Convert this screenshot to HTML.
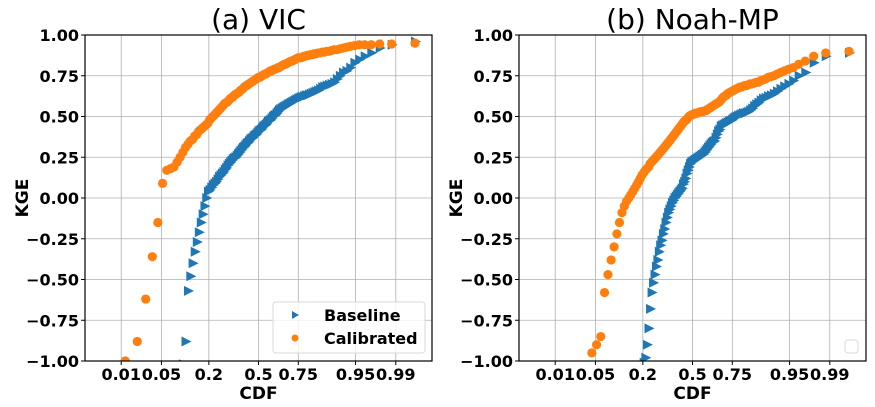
<!DOCTYPE html>
<html><head><meta charset="utf-8">
<style>
html,body{margin:0;padding:0;background:#fff;overflow:hidden;width:875px;height:407px;}
svg{display:block;font-family:"DejaVu Sans","Liberation Sans",sans-serif;}
.tick{font-size:16px;font-weight:bold;fill:#000;}
</style></head>
<body>
<svg id="chart" width="875" height="407" viewBox="0 0 875 407"></svg>
<script>
const xTicks = [0.01, 0.05, 0.2, 0.5, 0.75, 0.95, 0.99];
const xTickLabels = ["0.01", "0.05", "0.2", "0.5", "0.75", "0.95", "0.99"];
const yTicks = [-1, -0.75, -0.5, -0.25, 0, 0.25, 0.5, 0.75, 1];
const yTickLabels = ["\u22121.00", "\u22120.75", "\u22120.50", "\u22120.25", "0.00", "0.25", "0.50", "0.75", "1.00"];
const panelTitles = ["(a) VIC", "(b) Noah-MP"];
const seriesNames = ["Baseline", "Calibrated"];

const vicBaseline = [-2.5,-2.2,-2.0,-1.8,-1.65,-1.5,-1.4,-1.3,-1.22,-1.15,-1.1,-1.06,-1.02,-0.88,
-0.57,-0.48,-0.40,-0.33,-0.27,-0.21,-0.15,-0.10,-0.05,0.0,0.04,
0.05,0.065,0.08,0.09,0.10,0.115,0.13,0.14,0.15,0.16,0.175,0.185,0.20,0.21,
0.22,0.23,0.24,0.245,0.25,0.26,0.27,0.28,0.29,0.30,0.31,0.315,0.325,0.335,0.34,0.35,0.36,0.365,0.37,
0.38,0.385,0.39,0.40,0.41,0.415,0.42,0.43,0.44,0.445,0.45,0.46,0.47,0.475,0.48,0.49,0.50,0.505,0.51,0.52,0.53,0.54,
0.545,0.55,0.555,0.56,0.565,0.57,0.575,0.58,0.585,0.59,0.595,0.60,0.605,0.61,0.615,0.62,0.62,0.625,0.63,0.63,0.635,0.64,
0.645,0.65,0.655,0.66,0.67,0.68,0.685,0.69,0.695,0.70,0.71,
0.73,0.75,0.77,0.78,0.80,0.83,0.85,0.87,0.89,0.92,0.94,0.96];

const vicCalibrated = [-1.3,-1.0,-0.88,-0.62,-0.36,-0.15,0.09,0.17,0.18,0.19,0.22,0.25,0.28,0.31,0.33,0.35,
0.36,0.38,0.39,0.41,0.42,0.43,0.44,0.45,0.46,0.48,0.49,0.50,0.51,0.52,0.53,0.54,
0.55,0.56,0.57,0.58,0.585,0.59,0.60,0.61,0.615,0.62,0.63,0.635,0.64,0.645,
0.65,0.66,0.665,0.67,0.68,0.685,0.69,0.695,0.70,0.705,0.71,0.715,0.72,0.725,0.73,0.735,0.74,0.74,
0.745,0.75,0.755,0.76,0.76,0.765,0.77,0.775,0.78,0.78,0.785,0.79,0.79,0.795,0.80,0.80,
0.805,0.81,0.815,0.82,0.82,0.825,0.83,0.835,0.84,0.84,0.845,0.85,0.855,0.86,0.86,0.86,0.865,0.87,0.87,
0.875,0.875,0.88,0.88,0.885,0.885,0.89,0.89,0.895,0.895,0.90,0.90,
0.905,0.91,0.91,0.915,0.92,0.925,0.93,0.935,0.94,0.94,0.94,0.945,0.945,0.95];

const noahBaseline = [-2.5,-2.2,-2.0,-1.9,-1.8,-1.7,-1.6,-1.55,-1.5,-1.45,-1.4,-1.35,-1.3,-1.27,-1.24,-1.21,-1.18,-1.15,-1.13,-1.11,-1.09,-1.07,-1.05,-1.04,-1.03,-1.01,
-0.98,-0.90,-0.80,-0.68,-0.58,-0.52,-0.47,-0.42,-0.38,-0.33,-0.29,-0.26,-0.22,-0.19,-0.15,-0.12,-0.09,-0.07,-0.05,-0.03,-0.015,0.0,
0.01,0.02,0.03,0.04,0.05,0.06,0.085,0.10,0.12,0.15,0.17,0.19,0.21,0.22,0.225,0.23,
0.235,0.24,0.245,0.25,0.255,0.26,0.265,0.27,0.28,
0.29,0.30,0.31,0.32,0.33,0.34,0.345,0.35,
0.37,0.39,0.41,0.42,0.44,
0.445,0.45,0.455,0.46,0.465,0.47,0.475,0.48,0.49,
0.495,0.50,0.505,0.51,0.515,0.52,0.52,0.525,0.53,
0.54,0.55,0.565,0.575,0.585,0.60,0.61,0.615,0.625,0.63,0.64,
0.655,0.67,0.685,0.70,0.72,0.75,0.77,0.83,0.87,0.89];

const noahCalibrated = [-1.6,-1.4,-1.25,-1.15,-1.05,-0.95,-0.90,-0.85,
-0.58,-0.47,-0.38,-0.30,-0.22,-0.15,-0.09,-0.05,-0.02,0.0,0.02,
0.04,0.06,0.08,0.10,0.12,0.14,0.155,0.17,0.18,0.19,0.21,0.22,0.23,
0.24,0.25,0.26,0.27,0.28,0.29,0.30,0.31,0.32,
0.33,0.34,0.35,0.36,0.37,0.38,0.39,0.40,0.41,0.42,
0.43,0.44,0.45,0.46,0.47,0.475,0.48,0.49,0.50,
0.505,0.51,0.51,0.515,0.52,0.52,0.52,0.525,0.525,0.53,0.53,0.53,0.535,0.535,0.54,
0.545,0.55,0.555,0.56,0.565,0.57,0.575,0.58,0.585,0.59,
0.60,0.61,0.62,0.625,0.63,0.64,0.645,0.65,0.655,0.66,
0.665,0.67,0.675,0.68,0.68,0.685,0.69,0.69,0.695,0.70,0.70,0.705,0.71,0.71,
0.72,0.725,0.73,0.74,0.745,0.75,0.76,0.77,0.78,0.79,0.80,0.82,0.84,0.87,0.89,0.90];

const NS = "http://www.w3.org/2000/svg";
const svg = document.getElementById('chart');
function mk(tag, attrs, parent){const e=document.createElementNS(NS,tag);for(const k in attrs)e.setAttribute(k,attrs[k]);(parent||svg).appendChild(e);return e;}

function probit(p){
  const a=[-3.969683028665376e+01,2.209460984245205e+02,-2.759285104469687e+02,1.383577518672690e+02,-3.066479806614716e+01,2.506628277459239e+00];
  const b=[-5.447609879822406e+01,1.615858368580409e+02,-1.556989798598866e+02,6.680131188771972e+01,-1.328068155288572e+01];
  const c=[-7.784894002430293e-03,-3.223964580411365e-01,-2.400758277161838e+00,-2.549732539343734e+00,4.374664141464968e+00,2.938163982698783e+00];
  const d=[7.784695709041462e-03,3.224671290700398e-01,2.445134137142996e+00,3.754408661907416e+00];
  const pl=0.02425;let q,r;
  if(p<pl){q=Math.sqrt(-2*Math.log(p));return (((((c[0]*q+c[1])*q+c[2])*q+c[3])*q+c[4])*q+c[5])/((((d[0]*q+d[1])*q+d[2])*q+d[3])*q+1);}
  if(p<=1-pl){q=p-0.5;r=q*q;return (((((a[0]*r+a[1])*r+a[2])*r+a[3])*r+a[4])*r+a[5])*q/(((((b[0]*r+b[1])*r+b[2])*r+b[3])*r+b[4])*r+1);}
  q=Math.sqrt(-2*Math.log(1-p));return -(((((c[0]*q+c[1])*q+c[2])*q+c[3])*q+c[4])*q+c[5])/((((d[0]*q+d[1])*q+d[2])*q+d[3])*q+1);
}

const TOP=35, BOT=361, W=347, ZMIN=-2.94, ZMAX=2.94;
function yScale(v){return BOT-(v+1)/2*(BOT-TOP);}
function makeX(left){return p=>left+(probit(p)-ZMIN)/(ZMAX-ZMIN)*W;}

const panels=[
 {left:85, data:[vicBaseline,vicCalibrated], legend:true, key:'vic'},
 {left:519, data:[noahBaseline,noahCalibrated], legend:false, key:'noah'}
];
const colors=['#1f77b4','#ff7f0e'];

panels.forEach((pn,pi)=>{
  const xs=makeX(pn.left);
  const g=mk('g',{});
  
  
  const cp=mk('clipPath',{id:'clip'+pi},g);
  mk('rect',{x:pn.left,y:TOP,width:W,height:BOT-TOP},cp);
  const grid=mk('g',{stroke:'#b0b0b0','stroke-width':0.8},g);
  
  
  xTicks.forEach(t=>{const x=xs(t);mk('line',{x1:x,x2:x,y1:TOP,y2:BOT},grid);});
  yTicks.forEach(t=>{const y=yScale(t);mk('line',{x1:pn.left,x2:pn.left+W,y1:y,y2:y},grid);});
  pn.data.forEach((arr,si)=>{
    const sg=mk('g',{'clip-path':'url(#clip'+pi+')',fill:colors[si]},g);
    
    
    const n=arr.length;
    arr.forEach((v,i)=>{
      const p=(i+0.5)/n, x=xs(p), y=yScale(v);
      let m;
      if(si===0){m=mk('path',{d:`M${x-4},${y-5}L${x+6},${y}L${x-4},${y+5}Z`},sg);}
      else{m=mk('circle',{cx:x,cy:y,r:4.6},sg);}
      
      
    });
  });
  const sp=mk('rect',{x:pn.left,y:TOP,width:W,height:BOT-TOP,fill:'none',stroke:'#000','stroke-width':1.2},g);
  
  
  xTicks.forEach((t,i)=>{const x=xs(t);
    mk('line',{x1:x,x2:x,y1:BOT,y2:BOT+4,stroke:'#000'},g);
    const tx=mk('text',{x:x,y:BOT+19,'text-anchor':'middle',class:'tick'},g);tx.textContent=xTickLabels[i];
    
    
  });
  yTicks.forEach((t,i)=>{const y=yScale(t);
    mk('line',{x1:pn.left-4,x2:pn.left,y1:y,y2:y,stroke:'#000'},g);
    const tx=mk('text',{x:pn.left-6,y:y+6,'text-anchor':'end',class:'tick'},g);tx.textContent=yTickLabels[i];
    
    
  });
  const cx=pn.left+W/2;
  const tt=mk('text',{x:cx,y:29,'text-anchor':'middle','font-size':28,fill:'#000'},g);tt.textContent=panelTitles[pi];
  
  
  const xl=mk('text',{x:cx,y:399,'text-anchor':'middle','font-size':17,'font-weight':'bold'},g);xl.textContent='CDF';
  
  
  const yx=pn.left-57;
  const yl=mk('text',{x:yx,y:198,'text-anchor':'middle','font-size':17,'font-weight':'bold',transform:`rotate(-90 ${yx} 198)`},g);yl.textContent='KGE';
  
  
  if(pn.legend){
    const lg=mk('g',{},g);
    
    
    mk('rect',{x:273,y:302,width:152,height:51,rx:3,fill:'#fff','fill-opacity':0.8,stroke:'#d9d9d9'},lg);
    mk('path',{d:'M292,311L299,315L292,319Z',fill:colors[0]},lg);
    mk('circle',{cx:295,cy:338,r:3.5,fill:colors[1]},lg);
    seriesNames.forEach((s,i)=>{const t=mk('text',{x:324,y:321+i*23,'font-size':16,'font-weight':'bold'},lg);t.textContent=s;
      
      });
  } else {
    const lg=mk('rect',{x:845,y:340,width:13,height:13,rx:3,fill:'#fff',stroke:'#d9d9d9'},g);
    
    
  }
});
</script>
</body></html>
